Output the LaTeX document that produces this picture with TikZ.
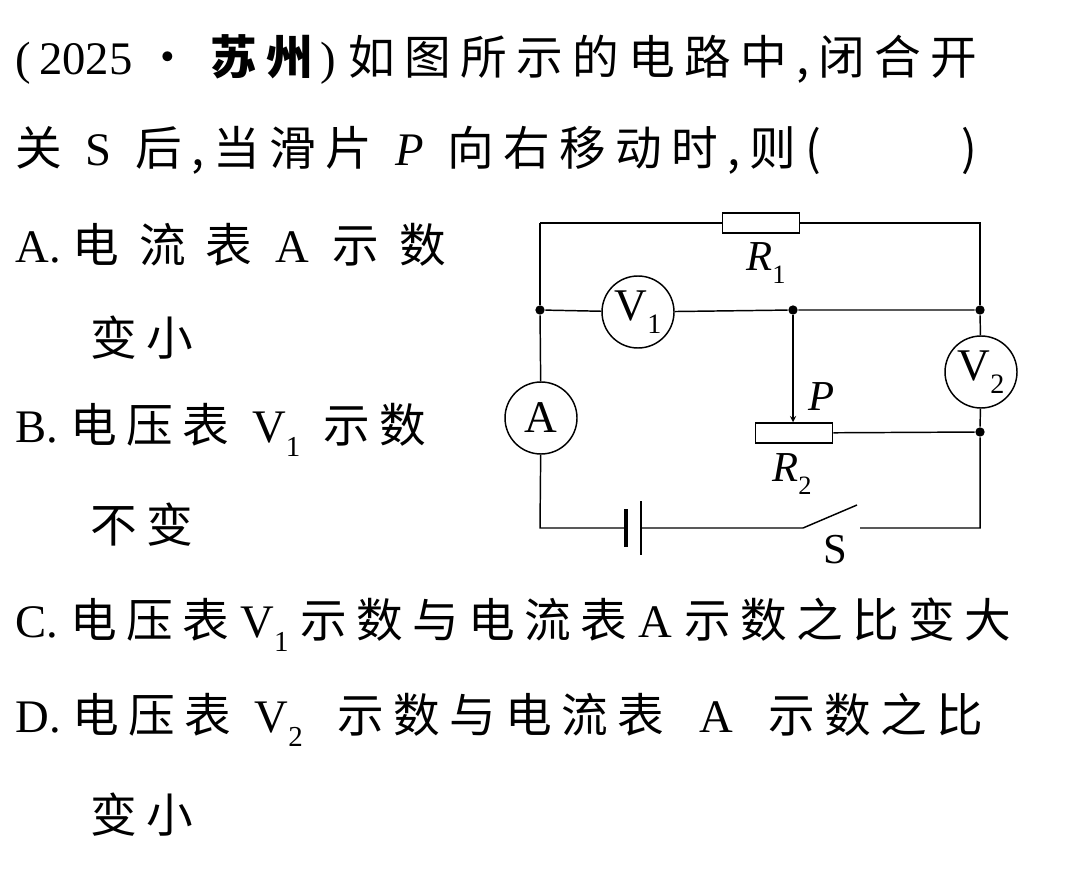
\documentclass[tikz,border=0pt]{standalone}
\usepackage{fontspec}
\setmainfont{Liberation Serif}
\newfontfamily\cjk[LetterSpace=20]{Noto Sans CJK SC}
\usetikzlibrary{positioning}
\newcommand\subidx[1]{\raisebox{-0.3em}{\scalebox{0.62}{#1}}}
\begin{document}
\begin{tikzpicture}[x=0.75pt,y=-0.75pt,line width=1.1pt,
  meter/.style={circle, draw, minimum size=54pt, inner sep=0pt, font=\fontsize{34}{34}\selectfont},
  res/.style={draw, minimum width=58pt, minimum height=15pt, inner sep=0pt},
  dot/.style={circle, fill, minimum size=7pt, inner sep=0pt},
  lbl/.style={font=\fontsize{32}{32}\selectfont},
  txt/.style={anchor=west, inner sep=0pt, font=\fontsize{35}{35}\selectfont}]
\useasboundingbox (0,0) rectangle (1080,877);
% text of the question
\node[txt] (l1) at (15,60) {(\,2025\ {\cjk ·\ \bfseries 苏州}\,)\ {\cjk 如图所示的电路中,闭合开}};
\node[txt] (l2) at (15,150) {{\cjk 关}\ \ S\ \ {\cjk 后,当滑片}\ \ \textit{P}\ \ {\cjk 向右移动时,则(}\hspace{3em}{\cjk )}};
\node[txt] (l3) at (15,245) {A.\ {\cjk 电\ 流\ 表}\ \ A\ \ {\cjk 示\ 数}};
\node[txt] (l4) at (90,338) {\cjk 变小};
\node[txt] (l5) at (15,430) {B.\ {\cjk 电压表}\ \ V\subidx{1}\ \ {\cjk 示数}};
\node[txt] (l6) at (90,525) {\cjk 不变};
\node[txt] (l7) at (15,625) {C.\ {\cjk 电压表}\ V\subidx{1}\ {\cjk 示数与电流表}\ A\ {\cjk 示数之比变大}};
\node[txt] (l8) at (15,720) {D.\ {\cjk 电压表}\ \ V\subidx{2}\ \ \ {\cjk 示数与电流表}\ \ \ A\ \ \ {\cjk 示数之比}};
\node[txt] (l9) at (90,815) {\cjk 变小};
% circuit
\coordinate (tl) at (540,223);
\coordinate (tr) at (980,223);
\coordinate (bl) at (540,528);
\coordinate (br) at (980,528);
\node[dot] (jl) at (540,310) {};
\node[dot] (jm) at (793,310) {};
\node[dot] (jr) at (980,310) {};
\node[dot] (jr2) at (980,432) {};
\node[res] (R1) at (761,223) {};
\node[res] (R2) at (794,433) {};
\node[meter] (V1) at (638,312) {V\subidx{1}};
\node[meter] (A) at (541,418) {A};
\node[meter] (V2) at (981,372) {V\subidx{2}};
\coordinate (bat1) at (626,528);
\coordinate (bat2) at (641,528);
\coordinate (sw1) at (803,528);
\coordinate (sw2) at (857,505);
\coordinate (sw3) at (860,528);
\draw (tl) -- (R1) -- (tr) -- (jr);
\draw (jl) -- (tl);
\draw (jl) -- (V1) -- (jm) -- (jr) -- (V2) -- (jr2);
\draw (jl) -- (A) -- (bl) -- (bat1);
\draw[line width=3pt] ([yshift=-14pt]bat1) -- ([yshift=14pt]bat1);
\draw ([yshift=-20pt]bat2) -- ([yshift=20pt]bat2);
\draw (bat2) -- (sw1) -- (sw2);
\draw (sw3) -- (br) -- (jr2) -- (R2);
\draw[-stealth] (jm) -- (R2.north -| jm);
\node[lbl] (R1l) at (766,263) {\textit{R}\subidx{1}};
\node[lbl] (R2l) at (792,474) {\textit{R}\subidx{2}};
\node[lbl] (Pl) at (822,397) {\textit{P}};
\node[lbl] (Sl) at (835,550) {S};
\end{tikzpicture}
\end{document}
